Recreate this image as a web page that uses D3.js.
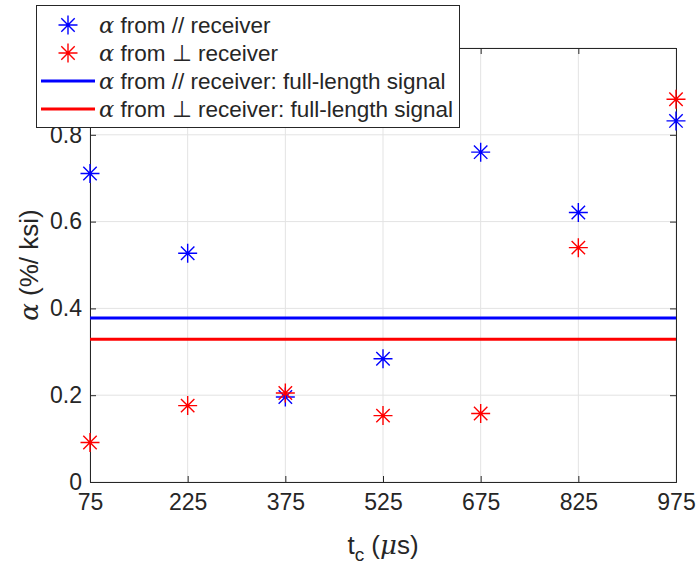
<!DOCTYPE html>
<html>
<head>
<meta charset="utf-8">
<script src="https://cdn.jsdelivr.net/npm/d3@7"></script>
<style>
  html, body { margin: 0; padding: 0; background: #fff; }
  svg { display: block; }
  text { font-family: "Liberation Sans", Arial, Helvetica, sans-serif; fill: #262626; }
  .greek { font-family: "DejaVu Serif", "Liberation Serif", serif; font-style: italic; }
</style>
</head>
<body>
<svg id="chart" width="698" height="569"></svg>
<script>
// Cut-off times t_c (µs)
const cutoffTimes = [75, 225, 375, 525, 675, 825, 975];
// alpha (%/ksi) estimated from the parallel receiver
const alphaParallel = [0.711, 0.527, 0.196, 0.284, 0.760, 0.621, 0.832];
// alpha (%/ksi) estimated from the perpendicular receiver
const alphaPerp = [0.091, 0.176, 0.205, 0.153, 0.158, 0.540, 0.882];
// alpha from the full-length signal of each receiver
const fullParallel = 0.378;
const fullPerp = 0.329;

const xTicks = [75, 225, 375, 525, 675, 825, 975];
const yTicks = [0, 0.2, 0.4, 0.6, 0.8, 1];
const yTickLabels = ["0", "0.2", "0.4", "0.6", "0.8", ""];

const svg = d3.select("#chart");
const plotLeft = 90, plotRight = 676, plotTop = 48, plotBottom = 482;

const x = d3.scaleLinear().domain([75, 975]).range([plotLeft, plotRight]);
const y = d3.scaleLinear().domain([0, 1]).range([plotBottom, plotTop]);

const axisColor = "#262626";
const gridColor = "#e3e3e3";

// grid
const grid = svg.append("g");
grid.selectAll("line.vx").data(xTicks).join("line")
  .attr("x1", d => x(d)).attr("x2", d => x(d))
  .attr("y1", plotTop).attr("y2", plotBottom)
  .attr("stroke", gridColor).attr("stroke-width", 1);
grid.selectAll("line.hy").data(yTicks).join("line")
  .attr("x1", plotLeft).attr("x2", plotRight)
  .attr("y1", d => y(d)).attr("y2", d => y(d))
  .attr("stroke", gridColor).attr("stroke-width", 1);

// axes (ticks pointing inward)
const tickLen = 6;
const xAxis = d3.axisBottom(x).tickValues(xTicks).tickSize(-tickLen).tickPadding(12)
  .tickFormat(d3.format("d"));
const yAxis = d3.axisLeft(y).tickValues(yTicks).tickSize(-tickLen).tickPadding(8)
  .tickFormat((d, i) => yTickLabels[i]);
const xTop = d3.axisTop(x).tickValues(xTicks).tickSize(-tickLen).tickFormat("");
const yRight = d3.axisRight(y).tickValues(yTicks).tickSize(-tickLen).tickFormat("");

function styleAxis(g) {
  g.select(".domain").attr("stroke", axisColor).attr("stroke-width", 1);
  g.selectAll(".tick line").attr("stroke", axisColor);
  g.selectAll(".tick text").attr("fill", axisColor)
    .style("font-family", '"Liberation Sans", Arial, sans-serif')
    .style("font-size", "23px");
}

svg.append("g").attr("transform", `translate(0,${plotBottom})`).call(xAxis).call(styleAxis);
svg.append("g").attr("transform", `translate(${plotLeft},0)`).call(yAxis).call(styleAxis);
svg.append("g").attr("transform", `translate(0,${plotTop})`).call(xTop).call(styleAxis);
svg.append("g").attr("transform", `translate(${plotRight},0)`).call(yRight).call(styleAxis);

// asterisk marker path
function asterisk(r) {
  const d = r * Math.SQRT1_2;
  return `M${-r},0L${r},0M0,${-r}L0,${r}M${-d},${-d}L${d},${d}M${-d},${d}L${d},${-d}`;
}

// full-length signal reference lines
const refLines = [
  { v: fullParallel, color: "#0000ff" },
  { v: fullPerp, color: "#ff0000" }
];

// scatter markers
const plot = svg.append("g");
plot.selectAll("path.par").data(cutoffTimes).join("path")
  .attr("transform", (d, i) => `translate(${x(d)},${y(alphaParallel[i])})`)
  .attr("d", asterisk(9.5)).attr("stroke", "#0000ff").attr("stroke-width", 1.4).attr("fill", "none");
plot.selectAll("path.perp").data(cutoffTimes).join("path")
  .attr("transform", (d, i) => `translate(${x(d)},${y(alphaPerp[i])})`)
  .attr("d", asterisk(9.5)).attr("stroke", "#ff0000").attr("stroke-width", 1.4).attr("fill", "none");

plot.selectAll("line.ref").data(refLines).join("line")
  .attr("x1", plotLeft).attr("x2", plotRight)
  .attr("y1", d => y(d.v)).attr("y2", d => y(d.v))
  .attr("stroke", d => d.color).attr("stroke-width", 3);

// axis labels
const xl = svg.append("text").attr("x", (plotLeft + plotRight) / 2).attr("y", 554)
  .attr("text-anchor", "middle").style("font-size", "26px");
xl.append("tspan").text("t");
xl.append("tspan").attr("dy", 7).style("font-size", "19px").text("c");
xl.append("tspan").attr("dy", -7).text(" (");
xl.append("tspan").attr("class", "greek").text("μ");
xl.append("tspan").text("s)");

const yl = svg.append("text")
  .attr("transform", `translate(38,${(plotTop + plotBottom) / 2}) rotate(-90)`)
  .attr("text-anchor", "middle").style("font-size", "26px");
yl.append("tspan").attr("class", "greek").text("α");
yl.append("tspan").text(" (%/ ksi)");

// legend
const legendItems = [
  { type: "marker", color: "#0000ff", label: "from // receiver" },
  { type: "marker", color: "#ff0000", label: "from ⊥ receiver" },
  { type: "line", color: "#0000ff", label: "from // receiver: full-length signal" },
  { type: "line", color: "#ff0000", label: "from ⊥ receiver: full-length signal" }
];
const lg = svg.append("g");
lg.append("rect").attr("x", 36.5).attr("y", 5.5).attr("width", 423).attr("height", 122)
  .attr("fill", "#fff").attr("stroke", axisColor).attr("stroke-width", 1);
const rows = lg.selectAll("g.row").data(legendItems).join("g")
  .attr("transform", (d, i) => `translate(0,${25 + i * 28})`);
rows.filter(d => d.type === "marker").append("path")
  .attr("transform", "translate(68,0)")
  .attr("d", asterisk(9.5)).attr("stroke", d => d.color).attr("stroke-width", 1.4).attr("fill", "none");
rows.filter(d => d.type === "line").append("line")
  .attr("x1", 41).attr("x2", 95).attr("y1", 0).attr("y2", 0)
  .attr("stroke", d => d.color).attr("stroke-width", 3);
const lt = rows.append("text").attr("x", 99).attr("y", 8).style("font-size", "22.5px");
lt.append("tspan").attr("class", "greek").text("α");
lt.append("tspan").text(d => " " + d.label);
</script>
</body>
</html>
